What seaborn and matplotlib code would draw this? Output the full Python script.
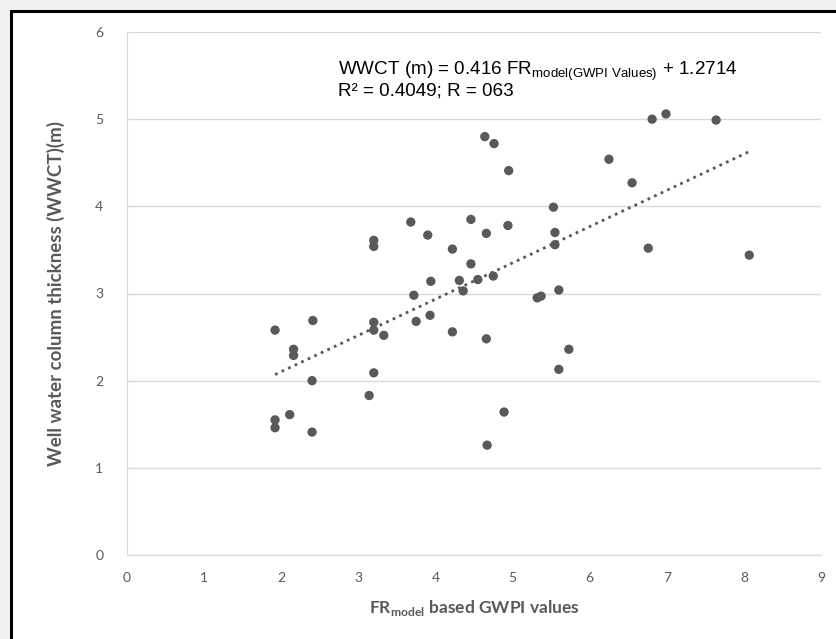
import matplotlib
matplotlib.use("Agg")
import matplotlib.pyplot as plt
import matplotlib.patches as patches
import numpy as np
import pandas as pd
import seaborn as sns

# =====================================================
# DATA
# =====================================================

gwpi_values = [
    1.92, 1.92, 1.92, 2.11, 2.16, 2.16, 2.41, 2.40, 2.40,
    3.20, 3.20, 3.20, 3.20, 3.20, 3.14, 3.33,
    3.68, 3.72, 3.75, 3.90, 3.94, 3.93,
    4.22, 4.22, 4.31, 4.36, 4.46, 4.46, 4.55,
    4.64, 4.76, 4.66, 4.66, 4.67, 4.75,
    4.95, 4.94, 4.89,
    5.32, 5.37, 5.53, 5.55, 5.55, 5.60, 5.73, 5.60,
    6.25, 6.55, 6.81, 6.99, 6.76, 7.64, 8.07,
]

wwct_values = [
    2.58, 1.55, 1.46, 1.61, 2.36, 2.29, 2.69, 2.00, 1.41,
    3.61, 3.54, 2.67, 2.58, 2.09, 1.83, 2.52,
    3.82, 2.98, 2.68, 3.67, 3.14, 2.75,
    3.51, 2.56, 3.15, 3.03, 3.85, 3.34, 3.16,
    4.80, 4.72, 3.69, 2.48, 1.26, 3.20,
    4.41, 3.78, 1.64,
    2.95, 2.97, 3.99, 3.70, 3.56, 3.04, 2.36, 2.13,
    4.54, 4.27, 5.00, 5.06, 3.52, 4.99, 3.44,
]

slope = 0.416
intercept = 1.2714

x_ticks = list(range(0, 10))
y_ticks = list(range(0, 7))

df = pd.DataFrame({"gwpi": gwpi_values, "wwct": wwct_values})

trend_x = np.array([min(gwpi_values), max(gwpi_values)])
trend = pd.DataFrame({"gwpi": trend_x, "wwct": slope * trend_x + intercept})

# =====================================================
# STYLE
# =====================================================

sns.set_style("white")
plt.rcParams["font.family"] = ["Lato", "DejaVu Sans"]
plt.rcParams["mathtext.fontset"] = "custom"
plt.rcParams["mathtext.rm"] = "Liberation Sans"
plt.rcParams["mathtext.bf"] = "Lato:bold"

grey = "#595959"

fig = plt.figure(figsize=(8.36, 6.39), dpi=100)
fig.patch.set_facecolor("#f0f0f0")

# white panel with black frame (right/bottom edges cut off)
frame = patches.Rectangle(
    (11 / 836, -0.1), 1.2, 1.1 - 11 / 639,
    transform=fig.transFigure,
    facecolor="white", edgecolor="black", linewidth=2.2, zorder=-5
)
fig.patches.append(frame)

ax = fig.add_axes([127 / 836, 1 - 555 / 639, (821 - 127) / 836, (555 - 32) / 639])
ax.set_facecolor("none")

# =====================================================
# PLOT
# =====================================================

sns.scatterplot(
    data=df, x="gwpi", y="wwct", ax=ax,
    color=grey, s=45, edgecolor="none", zorder=3
)

sns.lineplot(
    data=trend, x="gwpi", y="wwct", ax=ax,
    color=grey, linewidth=2.0, linestyle=(0, (1, 1.6)), zorder=2
)

ax.set_xlim(0, 9)
ax.set_ylim(0, 6)
ax.set_xticks(x_ticks)
ax.set_yticks(y_ticks)

ax.grid(axis="y", color="#d9d9d9", linewidth=1.0)
ax.set_axisbelow(True)

for side in ["top", "right"]:
    ax.spines[side].set_visible(False)
ax.spines["left"].set_color("#d9d9d9")
ax.spines["bottom"].set_color("#d9d9d9")

ax.tick_params(axis="both", length=0, colors=grey, labelsize=10)
ax.tick_params(axis="y", pad=17)
ax.tick_params(axis="x", pad=12)

ax.set_xlabel(
    r"$\mathbf{FR}$$_{\mathregular{model}}$ based GWPI values",
    fontsize=12.5, fontweight="bold", color=grey, labelpad=10
)
ax.set_ylabel(
    "Well water column thickness (WWCT)(m)",
    fontsize=13.5, fontweight="bold", color=grey, labelpad=22
)

# equation annotation
eq_font = ["Liberation Sans", "DejaVu Sans"]
ax.text(
    338 / 836, 1 - 75 / 639,
    r"WWCT (m) = 0.416 FR$_{\mathregular{model(GWPI\ Values)}}$ + 1.2714",
    transform=fig.transFigure, fontsize=13.6, family=eq_font, color="black"
)
ax.text(
    338 / 836, 1 - 96 / 639,
    "R² = 0.4049; R = 063",
    transform=fig.transFigure, fontsize=13.6, family=eq_font, color="black"
)

plt.savefig("out.png", dpi=100, facecolor=fig.get_facecolor())
plt.close()
